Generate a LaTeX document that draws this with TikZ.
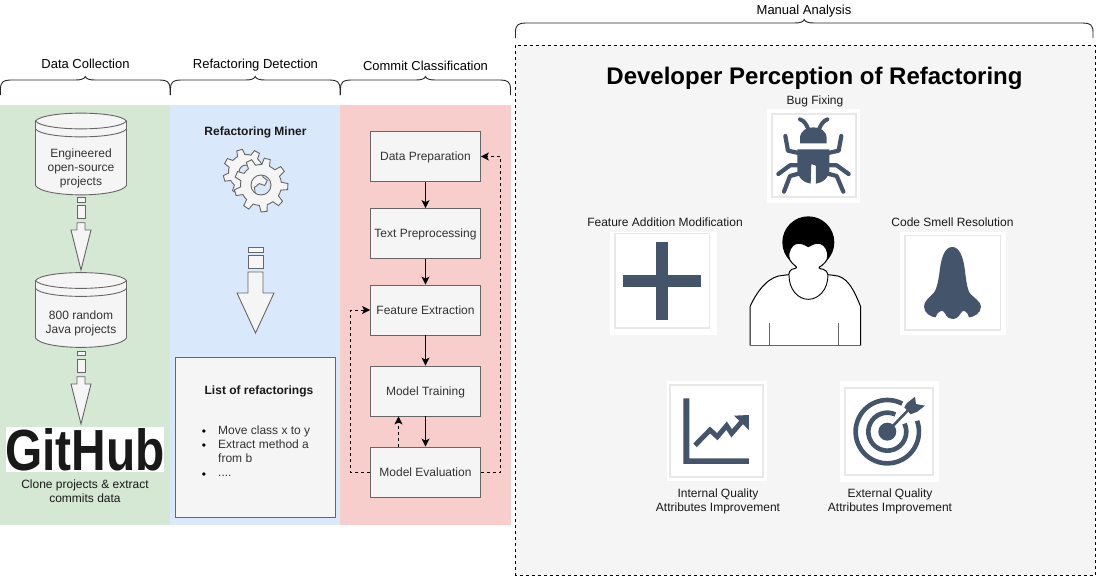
\documentclass[tikz,border=0pt]{standalone}
\usepackage{fontspec}
\setmainfont{Liberation Sans}
\usetikzlibrary{arrows.meta}
\definecolor{pgreen}{HTML}{D5E8D4}
\definecolor{pblue}{HTML}{DAE8FC}
\definecolor{pred}{HTML}{F8CECC}
\definecolor{pgrey}{HTML}{F5F5F5}
\definecolor{pstroke}{HTML}{666666}
\definecolor{ptext}{HTML}{333333}
\definecolor{navy}{HTML}{44546A}
\definecolor{frameg}{HTML}{E8E8E8}
\tikzset{
  txt/.style={font=\fontsize{12}{14}\selectfont,align=center,inner sep=0pt,text=#1},
  txt/.default=black!90,
  hdr/.style={font=\fontsize{13}{15}\selectfont,align=center,inner sep=0pt,text=black},
  shapeg/.style={fill=pgrey,draw=pstroke,line width=0.9pt},
  stepbox/.style={shapeg,minimum width=110pt,minimum height=50pt,inner sep=0pt,text height=9pt,text depth=1pt,font=\fontsize{12}{14}\selectfont,text=ptext},
  flow/.style={line width=1pt,-{Stealth[length=8pt,width=8pt,inset=2pt]}},
  loopback/.style={line width=0.9pt,dash pattern=on 3pt off 3pt,-{Stealth[length=8pt,width=8pt,inset=2pt]}},
  brace/.style={draw=black!85,line width=0.9pt},
  iconline/.style={draw=navy,line cap=round,line join=round},
}
% brace: x0 x1 ytop ybottom
\newcommand{\brc}[4]{%
  \pgfmathsetmacro{\cxx}{(#1+#2)/2}%
  \draw[brace] (#1,#4) -- (#1,#3+9) .. controls (#1,#3+2) and (#1+3,#3) .. (#1+10,#3)
    -- (\cxx-10,#3) .. controls (\cxx-4,#3) and (\cxx-1,#3-1) .. (\cxx,#3-3.5)
    .. controls (\cxx+1,#3-1) and (\cxx+4,#3) .. (\cxx+10,#3)
    -- (#2-10,#3) .. controls (#2-3,#3) and (#2,#3+2) .. (#2,#3+9) -- (#2,#4);}
% datastore: x0 x1 ytop ybottom
\newcommand{\dstore}[4]{%
  \draw[shapeg] (#1,#3+8) .. controls (#1+8,#3-2.5) and (#2-8,#3-2.5) .. (#2,#3+8)
    -- (#2,#4-10) .. controls (#2-8,#4+2.5) and (#1+8,#4+2.5) .. (#1,#4-10) -- cycle;
  \draw[shapeg,fill=none] (#1,#3+8) .. controls (#1+8,#3+18.5) and (#2-8,#3+18.5) .. (#2,#3+8);
  \draw[shapeg,fill=none] (#1,#3+16) .. controls (#1+8,#3+26.5) and (#2-8,#3+26.5) .. (#2,#3+16);}
% dashed block arrow: cx halfshaft halfhead y1 y2 y3 y4 y5 y6, tip in \arrtip
\newcommand{\blockarr}[9]{%
  \draw[shapeg] (#1-#2,#4) rectangle (#1+#2,#5);
  \draw[shapeg] (#1-#2,#6) rectangle (#1+#2,#7);
  \draw[shapeg,line join=miter] (#1-#2,#8) -- (#1+#2,#8) -- (#1+#2,#9) -- (#1+#3,#9) -- (#1,\arrtip) -- (#1-#3,#9) -- (#1-#2,#9) -- cycle;}
% gear builder: cx cy Router Rinner teeth rot; result in \gp
\newcommand{\gpt}[2]{%
  \pgfmathsetmacro{\ax}{\gcx+(#1)*cos(#2)}%
  \pgfmathsetmacro{\ay}{\gcy+(#1)*sin(#2)}%
  \xdef\gp{\gp -- (\ax,\ay)}}
\newcommand{\buildgear}[6]{%
  \def\gcx{#1}\def\gcy{#2}%
  \pgfmathsetmacro{\stp}{360/#5}%
  \pgfmathsetmacro{\ax}{#1+#4*cos(#6)}%
  \pgfmathsetmacro{\ay}{#2+#4*sin(#6)}%
  \xdef\gp{(\ax,\ay)}%
  \foreach \k in {1,...,#5}{%
    \gpt{#4}{#6+(\k-1)*\stp+0.18*\stp}%
    \gpt{#3}{#6+(\k-1)*\stp+0.30*\stp}%
    \gpt{#3}{#6+(\k-1)*\stp+0.62*\stp}%
    \gpt{#4}{#6+(\k-1)*\stp+0.74*\stp}%
    \gpt{#4}{#6+\k*\stp}%
  }%
  \xdef\gp{\gp -- cycle}}
\begin{document}
\begin{tikzpicture}[x=1pt,y=-1pt]
\useasboundingbox (0,0) rectangle (1096,576);
% panels
\fill[pgreen] (0,105) rectangle (170,525);
\fill[pblue] (170,105) rectangle (340,525);
\fill[pred] (340,105) rectangle (511,525);
\draw[fill=pgrey,draw=black,line width=0.9pt,dash pattern=on 3pt off 3pt] (515.5,45) rectangle (1095,575);
% braces + headers
\brc{0.5}{170}{80}{95}
\brc{170.5}{340}{80}{95}
\brc{340.5}{510.5}{80}{95}
\brc{515.5}{1093}{23}{38}
\node[hdr] (hdc) at (85.5,64) {Data Collection};
\node[hdr] (hrd) at (255.5,65.5) {Refactoring Detection};
\node[hdr] (hcc) at (425.5,65.5) {Commit Classification};
\node[hdr] (hma) at (804,11.5) {Manual Analysis};
% data collection
\dstore{35.5}{126.5}{113}{195.5}
\node[txt=ptext] (eng) at (81,168) {Engineered\\open-source\\projects};
\def\arrtip{270}
\blockarr{81}{4}{10}{197.5}{202}{205.7}{218}{222.7}{230}
\dstore{35.5}{126.5}{272.5}{348}
\node[txt=ptext] (rnd) at (81,323) {800 random\\Java projects};
\def\arrtip{424}
\blockarr{81}{4}{10}{351.7}{355.7}{359}{372}{376.7}{384}
\fill[white] (6,427) rectangle (164,471.7);
\node[inner sep=0pt,text=black!90,text height=42pt,text depth=0pt] (gh) at (85,449) {\scalebox{0.825}[1]{\fontsize{58}{58}\selectfont\bfseries GitHub}};
\node[txt] (cln) at (85,491) {Clone projects \& extract\\commits data};
% refactoring detection
\node[txt,font=\fontsize{12}{14}\selectfont\bfseries] (rm) at (255.5,132) {Refactoring Miner};
\buildgear{246}{172}{23}{17.5}{8}{8}
\draw[shapeg,even odd rule] \gp (246,172) circle[radius=7];
\buildgear{261}{185}{27}{20.5}{9}{-15}
\draw[shapeg,even odd rule] \gp (261,185) circle[radius=10];
\def\arrtip{333}
\blockarr{255.5}{7.5}{18.5}{247}{252}{255}{268}{272}{293}
\draw[shapeg] (175.5,357.5) rectangle (335.5,517);
\node[txt,font=\fontsize{12}{14}\selectfont\bfseries] (lst) at (259,391) {List of refactorings};
\node[txt=ptext,align=left,anchor=north west] (it1) at (218,426) {Move class x to y\\Extract method a\\from b\\....};
\node[txt=black] (b1) at (204,433) {•};
\node[txt=black] (b2) at (204,447) {•};
\node[txt=black] (b3) at (204,476) {•};
% classification
\node[stepbox] (dp) at (425.5,156.5) {Data Preparation};
\node[stepbox] (tp) at (425.5,233.5) {Text Preprocessing};
\node[stepbox] (fe) at (425.5,310) {Feature Extraction};
\node[stepbox] (mt) at (425.5,391) {Model Training};
\node[stepbox] (me) at (425.5,472) {Model Evaluation};
\draw[flow] (dp) -- (tp);
\draw[flow] (tp) -- (fe);
\draw[flow] (fe) -- (mt);
\draw[flow] (mt) -- (me);
\coordinate (rr) at (500.5,300);
\coordinate (ll) at (350.5,400);
\coordinate (uu) at (398.5,447);
\draw[loopback] (me.east) -- (rr |- me.east) -- (rr |- dp.east) -- (dp.east);
\draw[loopback] (me.west) -- (ll |- me.west) -- (ll |- fe.west) -- (fe.west);
\draw[loopback] (uu) -- (uu |- mt.south);
% manual analysis
\node[font=\fontsize{24}{28}\selectfont\bfseries,inner sep=0pt,text=black] (ttl) at (814.5,78) {Developer Perception of Refactoring};
\node[txt] (lbug) at (815,101) {Bug Fixing};
\node[txt] (lfa) at (665,222) {Feature Addition Modification};
\node[txt] (lcs) at (952.5,222) {Code Smell Resolution};
\node[txt] (liq) at (718,501) {Internal Quality\\Attributes Improvement};
\node[txt] (leq) at (890,501) {External Quality\\Attributes Improvement};
% icon tiles
\fill[white] (767,109) rectangle (860,203);
\draw[frameg,line width=1.6pt] (772,114) rectangle (856,197);
\fill[white] (610,231.5) rectangle (716.5,335);
\draw[frameg,line width=1.6pt] (615,233.5) rectangle (709.5,328);
\fill[white] (900,231.5) rectangle (1006,335);
\draw[frameg,line width=1.6pt] (905,235.5) rectangle (1000.5,330);
\fill[white] (667,381) rectangle (767,481);
\draw[frameg,line width=1.6pt] (670,385) rectangle (763,477);
\fill[white] (840,381) rectangle (938.5,482);
\draw[frameg,line width=1.6pt] (845,388) rectangle (933,475);
% bug (zoom coordinates)
\begin{scope}[shift={(740,90)},x=0.3333pt,y=-0.3333pt]
  \fill[navy] (180,160) -- (180,145) .. controls (180,122) and (200,112) .. (220,112)
     .. controls (240,112) and (260,122) .. (260,145) -- (260,160) -- cycle;
  \fill[navy] (172,178) -- (268,178) -- (268,240) .. controls (268,262) and (250,278) .. (228,281)
     -- (228,228) -- (214,222) -- (212,281) .. controls (190,278) and (172,262) .. (172,240) -- cycle;
  \fill[white] (217,224) -- (225,224) -- (225,281) -- (217,281) -- cycle;
  \draw[iconline,line width=4pt,fill=none] (180,88) .. controls (193,92) and (200,105) .. (205,118);
  \draw[iconline,line width=4pt,fill=none] (262,88) .. controls (250,92) and (242,105) .. (237,118);
  \draw[iconline,line width=4.2pt,fill=none] (136,138) -- (144,182) -- (180,190);
  \draw[iconline,line width=4.2pt,fill=none] (304,138) -- (296,182) -- (260,190);
  \draw[iconline,line width=4.2pt,fill=none] (115,252) -- (150,226) -- (180,226);
  \draw[iconline,line width=4.2pt,fill=none] (326,252) -- (290,226) -- (260,226);
  \draw[iconline,line width=4.2pt,fill=none] (132,305) -- (150,258) -- (180,250);
  \draw[iconline,line width=4.2pt,fill=none] (310,305) -- (290,258) -- (260,250);
\end{scope}
% plus
\fill[navy] (656,241.5) rectangle (668,320);
\fill[navy] (622.5,275) rectangle (701,287);
% nose
\begin{scope}[shift={(890,210)},x=0.3333pt,y=-0.3333pt]
  \fill[navy] (187,111) .. controls (165,111) and (155,140) .. (150,175)
    .. controls (146,210) and (140,240) .. (130,250)
    .. controls (115,265) and (102,275) .. (102,290)
    .. controls (102,310) and (125,322) .. (137,322)
    .. controls (140,305) and (160,295) .. (165,310)
    .. controls (170,322) and (178,327) .. (187,327)
    .. controls (198,327) and (205,322) .. (212,310)
    .. controls (218,295) and (234,305) .. (237,322)
    .. controls (250,322) and (273,310) .. (273,290)
    .. controls (273,275) and (250,262) .. (240,250)
    .. controls (232,240) and (228,210) .. (224,175)
    .. controls (219,140) and (208,111) .. (187,111) -- cycle;
\end{scope}
% person
\begin{scope}[shift={(740,205)},x=0.3333pt,y=-0.3333pt]
  \fill[black] (205,112) circle[radius=78];
  \draw[black,line width=1pt,fill=white]
    (30,422) -- (30,305) .. controls (55,250) and (90,212) .. (130,211) -- (146,209)
    .. controls (150,200) and (148,197) .. (155,193) .. controls (172,190) and (172,187) .. (165,182)
    .. controls (150,170) and (145,160) .. (147,145) .. controls (150,125) and (165,112) .. (180,115)
    .. controls (192,117) and (200,122) .. (205,125) .. controls (210,122) and (218,117) .. (230,115)
    .. controls (245,112) and (260,125) .. (263,145) .. controls (265,160) and (260,170) .. (245,182)
    .. controls (232,188) and (236,191) .. (250,193) .. controls (260,197) and (260,200) .. (264,209)
    -- (280,211) .. controls (320,212) and (340,250) .. (362,305) -- (362,422);
  \draw[black,line width=0.9pt] (147,210) .. controls (147,255) and (175,283) .. (205,283) .. controls (235,283) and (264,255) .. (264,210);
  \draw[pstroke,line width=1pt] (87,355) -- (87,422);
  \draw[pstroke,line width=1pt] (295,355) -- (295,422);
  \draw[pstroke,line width=1.5pt] (30,422) -- (362,422);
\end{scope}
% chart + target
\begin{scope}[shift={(660,375)},x=0.3333pt,y=-0.3333pt]
  \fill[navy] (70,70) -- (88,70) -- (88,250) -- (267,250) -- (267,267) -- (70,267) -- cycle;
  \draw[iconline,line width=5pt,line cap=butt,line join=miter,fill=none] (105,211) -- (150,165) -- (172,185) -- (200,152) -- (215,175) -- (250,135);
  \fill[navy] (222,122) -- (267,120) -- (267,165) -- cycle;
  \coordinate (tc) at (682,170);
  \draw[navy,line width=4.6pt] (tc) ++(-62:95) arc[start angle=-62,end angle=-380,radius=95];
  \draw[navy,line width=4.6pt] (tc) ++(-65:57) arc[start angle=-65,end angle=-385,radius=57];
  \fill[navy] (tc) circle[radius=27];
  \draw[navy,line width=2.6pt] (tc) -- (745,105);
  \fill[navy] (733,97) -- (740,85) -- (765,65) -- (768,87) -- (795,92) -- (772,110) -- (752,118) -- cycle;
\end{scope}
\end{tikzpicture}
\end{document}
